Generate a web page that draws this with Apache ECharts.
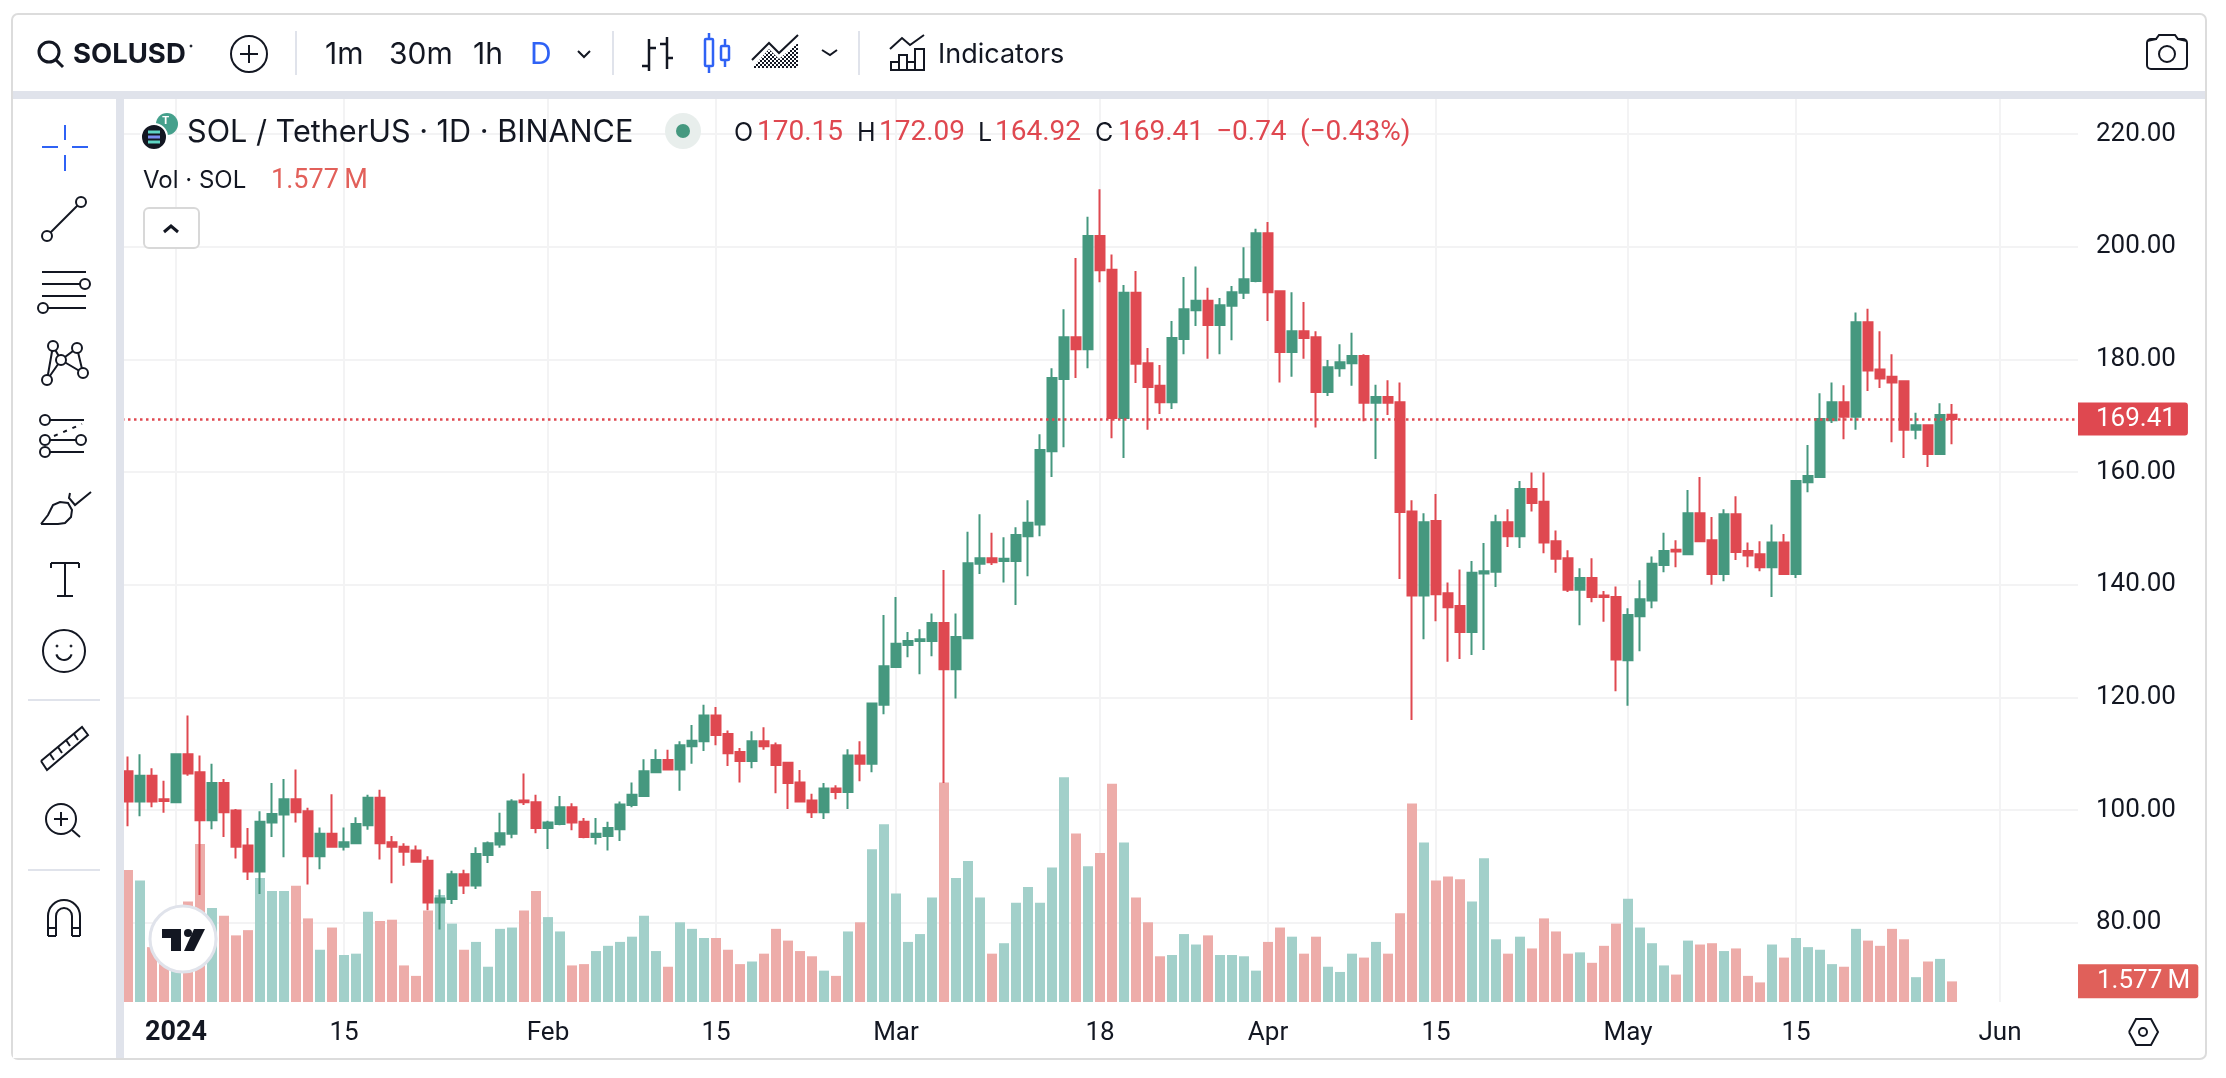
<!DOCTYPE html>
<html>
<head>
<meta charset="utf-8">
<title>SOLUSD</title>
<style>
html, body { margin: 0; padding: 0; background: #fff; }
#main { width: 2226px; height: 1078px; }
</style>
<script src="https://cdn.jsdelivr.net/npm/echarts@6/dist/echarts.min.js"></script>
</head>
<body>
<div id="main"></div>
<script>
// daily bars from 2023-12-28, each row is open, close, low, high
var candles = [
    [106.9,101.5,97.1,109.5],[101.5,106.1,98.9,109.9],[106.1,101.5,100.5,107.4],[101.9,101.6,99.5,105.2],
    [101.4,109.9,101.4,109.9],[109.9,106.5,106.1,116.8],[106.7,98.2,84.9,109.7],[98.2,104.8,96.6,108.2],
    [104.8,99.6,95.2,105.5],[99.9,93.5,91.4,100.2],[93.7,89.1,87.6,96.8],[89.1,97.9,85.1,99.8],
    [97.8,99.3,95.2,104.8],[99.2,101.9,91.6,105.5],[101.9,99.6,97.8,107.2],[99.8,91.8,86.8,100.4],
    [91.8,95.8,89.5,96.9],[95.8,93.5,93.5,102.8],[93.5,94.3,92.8,96.9],[94.1,97.5,94.1,98.7],
    [97.3,102.2,96.5,102.7],[102.2,94.1,91.2,103.6],[94.3,93.5,87.0,95.4],[93.5,92.6,90.1,94.1],
    [92.8,90.8,90.8,93.7],[91.0,83.6,82.2,91.8],[83.6,84.3,78.8,85.9],[84.2,88.6,83.3,89.2],
    [88.6,86.6,85.1,89.4],[86.6,92.2,86.0,93.4],[92.0,94.1,90.6,94.4],[93.9,95.9,93.3,99.5],
    [95.8,101.5,95.0,101.9],[101.7,101.4,100.9,106.5],[101.4,96.8,95.9,102.7],[96.8,97.8,93.1,98.1],
    [97.5,100.5,97.3,102.5],[100.5,97.8,96.4,101.2],[97.9,95.2,95.0,98.6],[95.2,95.8,93.9,98.6],
    [95.4,96.8,92.8,97.9],[96.6,101.0,94.5,101.5],[100.9,102.7,100.5,104.9],[102.5,106.9,102.5,109.0],
    [106.7,108.9,106.7,110.8],[108.9,107.2,107.1,110.7],[107.2,111.5,103.4,112.2],[111.3,112.3,108.2,115.1],
    [112.2,116.8,110.5,118.7],[116.8,113.3,111.5,118.3],[113.5,110.1,107.8,114.1],[110.3,108.7,104.9,111.0],
    [108.7,112.2,107.4,114.0],[112.2,111.3,110.7,114.7],[111.5,108.0,103.0,112.0],[108.4,104.8,100.2,108.4],
    [104.9,101.5,101.4,107.1],[101.7,99.6,98.6,102.9],[99.6,103.8,98.4,104.8],[103.8,103.2,101.9,104.4],
    [103.2,109.7,100.2,110.8],[109.7,108.2,105.1,112.2],[108.2,118.9,106.7,118.9],[118.7,125.5,117.0,134.6],
    [125.4,129.5,125.4,137.8],[129.3,130.0,127.1,131.6],[130.0,130.3,124.1,132.1],[130.0,133.2,127.3,134.9],
    [133.2,125.0,104.8,142.6],[125.0,130.7,119.8,134.9],[130.5,143.8,130.5,149.4],[143.7,144.7,141.9,152.5],
    [144.7,144.0,143.5,149.2],[144.2,144.6,140.4,148.4],[144.2,148.8,136.4,150.2],[148.6,151.0,141.5,155.0],
    [150.7,163.9,148.6,166.7],[163.7,176.7,159.1,178.4],[176.5,183.9,164.4,188.9],[183.9,181.8,176.7,198.0],
    [181.8,201.9,178.4,205.3],[201.9,195.8,193.7,210.2],[195.9,169.6,166.0,198.6],[169.6,191.8,162.5,193.2],
    [191.8,179.2,175.8,195.7],[179.3,175.1,167.5,182.0],[175.3,172.4,170.3,179.0],[172.4,183.8,171.2,186.8],
    [183.6,188.9,180.9,194.6],[188.7,190.4,185.9,196.5],[190.4,186.1,180.1,192.7],[186.1,189.6,180.9,190.9],
    [189.5,191.9,183.4,193.0],[191.8,194.2,190.7,199.9],[193.9,202.4,193.7,203.2],[202.4,191.9,186.8,204.4],
    [192.1,181.3,175.9,192.1],[181.3,185.0,176.9,191.9],[185.0,183.8,180.1,190.2],[183.9,174.2,167.9,185.0],
    [174.2,178.6,173.5,179.9],[178.4,179.5,176.9,182.7],[179.3,180.6,175.3,184.7],[180.6,172.3,169.0,180.9],
    [172.3,173.3,162.3,175.5],[173.3,172.3,170.1,176.3],[172.4,152.9,141.0,175.9],[153.0,138.1,116.0,155.0],
    [138.1,151.1,130.3,152.7],[151.3,138.3,133.5,156.1],[138.5,136.0,126.3,140.4],[136.2,131.6,126.8,142.7],
    [131.6,142.1,127.5,144.2],[142.0,142.4,128.4,147.4],[142.3,151.1,139.6,152.4],[151.1,148.6,146.7,153.4],
    [148.6,157.0,146.5,158.4],[157.0,154.5,153.0,159.9],[154.7,147.5,145.6,159.9],[147.7,144.6,142.1,149.6],
    [144.7,139.1,138.7,146.1],[139.1,141.2,132.8,142.9],[141.2,137.8,136.9,144.7],[138.1,137.8,133.4,138.9],
    [137.8,126.7,121.1,139.7],[126.6,134.6,118.5,135.8],[134.4,137.4,128.2,140.8],[137.2,143.7,135.8,145.0],
    [143.5,146.0,142.2,149.2],[146.2,145.9,143.1,147.9],[145.4,152.7,145.4,156.8],[152.7,147.7,147.7,159.1],
    [147.9,141.9,140.0,152.0],[141.9,152.5,140.6,153.4],[152.5,145.8,144.4,155.7],[146.0,145.2,143.1,147.5],
    [145.4,143.1,142.4,147.7],[143.1,147.5,137.8,150.7],[147.5,141.9,141.7,149.0],[141.9,158.4,141.2,158.6],
    [158.2,159.3,156.4,164.8],[159.1,169.4,159.1,174.0],[169.2,172.4,168.7,175.9],[172.4,169.8,165.8,175.4],
    [169.8,186.6,167.5,188.3],[186.6,178.0,174.4,189.0],[178.2,176.6,174.9,185.0],[176.9,175.9,165.3,180.9],
    [176.1,167.5,162.5,176.1],[167.5,168.3,165.8,170.5],[168.3,163.2,160.9,168.3],[163.2,170.1,163.2,172.2],
    [170.15,169.41,164.92,172.09]
];

// volume in millions of SOL
var volumes = [
    10.1,9.3,4.2,2.9,4.5,7.7,12.1,7.2,6.6,5.1,5.5,9.5,8.5,8.5,8.9,6.4,4.0,5.7,3.6,3.7,
    6.9,6.2,6.3,2.8,2.0,7.0,8.2,6.0,4.0,4.6,2.7,5.6,5.7,7.0,8.5,6.5,5.4,2.8,2.9,3.9,
    4.3,4.6,5.0,6.6,3.9,2.7,6.1,5.6,4.9,4.9,4.0,2.9,3.1,3.7,5.6,4.7,3.9,3.5,2.4,2.0,
    5.4,6.1,11.7,13.6,8.3,4.6,5.2,8.0,16.8,9.5,10.8,8.0,3.7,4.5,7.6,8.8,7.6,10.3,17.2,12.9,
    10.4,11.4,16.7,12.2,8.0,6.1,3.5,3.6,5.2,4.4,5.1,3.6,3.6,3.5,2.4,4.6,5.7,5.0,3.7,5.0,
    2.7,2.3,3.7,3.4,4.6,3.7,6.8,15.2,12.2,9.3,9.6,9.4,7.7,11.0,4.8,3.7,5.0,4.1,6.4,5.4,
    3.7,3.8,3.0,4.3,6.0,7.9,5.7,4.5,2.8,2.1,4.7,4.4,4.5,3.9,4.1,2.0,1.5,4.4,3.4,4.9,
    4.2,4.0,2.9,2.7,5.6,4.7,4.3,5.6,4.8,1.9,3.1,3.3,1.577
];

var lastPrice = 169.41;
var lastVolume = 1.577;

// the axis runs on past the last bar, up to 7 Jun
var categories = [];
for (var d = new Date(Date.UTC(2023, 11, 28)); d <= new Date(Date.UTC(2024, 5, 7)); d.setUTCDate(d.getUTCDate() + 1)) {
    categories.push(d.toISOString().slice(0, 10));
}

var tickLabels = {
    '2024-01-01': '2024', '2024-01-15': '15', '2024-02-01': 'Feb', '2024-02-15': '15',
    '2024-03-01': 'Mar', '2024-03-18': '18', '2024-04-01': 'Apr', '2024-04-15': '15',
    '2024-05-01': 'May', '2024-05-15': '15', '2024-06-01': 'Jun'
};

var GREEN = '#45987f', RED = '#df4850';
var VOL_GREEN = '#a2d0ca', VOL_RED = '#edaca9';
var INK = '#131722', BLUE = '#2f62f5', BAND = '#e0e3eb', GRID = '#f3f3f4';
var FONT = 'Inter', NUM_FONT = 'Roboto';

function isTick(i) {
    return tickLabels[categories[i]] !== undefined;
}

// 2px checker for the area icon
function checker() {
    var c = document.createElement('canvas');
    c.width = c.height = 4;
    var ctx = c.getContext('2d');
    ctx.fillStyle = INK;
    ctx.fillRect(0, 0, 2, 2);
    ctx.fillRect(2, 2, 2, 2);
    return c;
}

// helpers for the toolbar chrome, drawn above the series
function ln(x1, y1, x2, y2, color, w, dash) {
    return { type: 'line', z: 100, silent: true, shape: { x1: x1, y1: y1, x2: x2, y2: y2 },
        style: { stroke: color || INK, lineWidth: w || 2, lineDash: dash } };
}
function ring(cx, cy, r, color, w, fill) {
    return { type: 'circle', z: 100, silent: true, shape: { cx: cx, cy: cy, r: r },
        style: { stroke: color || INK, lineWidth: w === undefined ? 2 : w, fill: fill || '#fff' } };
}
function box(x, y, w, h, fill, stroke, r, lw) {
    return { type: 'rect', z: 100, silent: true, shape: { x: x, y: y, width: w, height: h, r: r || 0 },
        style: { fill: fill || 'none', stroke: stroke || 'none', lineWidth: lw === undefined ? 2 : lw } };
}
function txt(x, y, s, size, color, weight, font) {
    return { type: 'text', z: 101, silent: true, x: x, y: y,
        style: { text: s, fontFamily: font || FONT, fontSize: size, fill: color || INK, fontWeight: weight || 400,
            textAlign: 'left', textVerticalAlign: 'middle' } };
}
function poly(points, color, w) {
    return { type: 'polyline', z: 100, silent: true, shape: { points: points },
        style: { stroke: color || INK, lineWidth: w || 2, fill: 'none' } };
}
function fillPoly(points, fill) {
    return { type: 'polygon', z: 100, silent: true, shape: { points: points }, style: { fill: fill, stroke: 'none' } };
}
function arc(cx, cy, r, a0, a1, color, w) {
    return { type: 'arc', z: 100, silent: true, shape: { cx: cx, cy: cy, r: r, startAngle: a0, endAngle: a1, clockwise: true },
        style: { stroke: color || INK, lineWidth: w || 2, fill: 'none' } };
}

var chrome = [
    // frame and bands
    box(12, 14, 2194, 1045, 'none', '#dcdcdc', 6, 2),
    box(13, 91, 2192, 8, BAND),
    box(13, 99, 103, 959, '#fff'),
    box(116, 99, 8, 959, BAND),

    // top toolbar
    ring(49, 52, 10, INK, 3, 'none'), ln(56, 60, 63, 67, INK, 3),
    txt(73, 55, 'SOLUSD', 27.5, INK, 700), ring(191, 46, 1, INK, 1, INK),
    ring(249, 54, 18, INK, 2, 'none'), ln(240, 54, 258, 54), ln(249, 45, 249, 63),
    ln(296, 31, 296, 75, BAND, 2),
    txt(325, 55, '1m', 30), txt(389, 55, '30m', 30), txt(473, 55, '1h', 30), txt(530, 55, 'D', 30, BLUE),
    poly([[578, 51], [584, 57], [590, 51]]),
    ln(613, 31, 613, 75, BAND, 2),
    ln(649, 39, 649, 71, INK, 2.5), ln(642, 66, 649, 66, INK, 2.5), ln(649, 48, 656, 48, INK, 2.5),
    ln(667, 37, 667, 69, INK, 2.5), ln(660, 44, 667, 44, INK, 2.5), ln(667, 58, 673, 58, INK, 2.5),
    ln(709, 33, 709, 73, BLUE, 2.5), box(705, 39, 8, 27, '#fff', BLUE, 1, 2.5),
    ln(725, 39, 725, 67, BLUE, 2.5), box(721, 46, 8, 14, '#fff', BLUE, 1, 2.5),
    fillPoly([[752, 68], [769, 49], [779, 59], [798, 43], [798, 68]], { image: checker(), repeat: 'repeat' }),
    poly([[752, 60], [769, 43], [779, 53], [798, 35]]),
    poly([[822, 50], [830, 55], [837, 50]]),
    ln(859, 31, 859, 75, BAND, 2),
    poly([[890, 49], [902, 38], [910, 45], [924, 35]]),
    box(891, 62, 8, 8, 'none', INK, 0), box(899, 55, 8, 15, 'none', INK, 0),
    box(907, 62, 8, 8, 'none', INK, 0), box(915, 49, 9, 21, 'none', INK, 0),
    txt(938, 55, 'Indicators', 27),

    // camera
    box(2147, 39, 40, 30, 'none', INK, 4), ring(2167, 54, 8, INK, 2, 'none'),
    box(2157, 35, 20, 6, '#fff', 'none', 0, 0),
    poly([[2147, 41], [2156, 39], [2159, 35], [2175, 35], [2178, 39], [2187, 41]]),

    // legend
    ring(167, 124, 11, '#fff', 0, '#45a08c'), txt(162, 121, 'T', 11, '#fff', 700),
    ring(154, 137, 13, '#fff', 2, '#131722'),
    ln(148, 132, 160, 132, '#5fd5c4', 3), ln(148, 137, 160, 137, '#7a8cf0', 3), ln(148, 142, 160, 142, '#5fd5c4', 3),
    txt(187, 133, 'SOL / TetherUS · 1D · BINANCE', 30.6),
    ring(683, 131, 18, '#fff', 0, '#e8eeec'), ring(683, 131, 7, '#fff', 0, GREEN),
    txt(734, 133, 'O', 25), txt(757, 133, '170.15', 28, RED, 400, NUM_FONT),
    txt(857, 133, 'H', 25), txt(879, 133, '172.09', 28, RED, 400, NUM_FONT),
    txt(978, 133, 'L', 25), txt(995, 133, '164.92', 28, RED, 400, NUM_FONT),
    txt(1095, 133, 'C', 25), txt(1118, 133, '169.41', 28, RED, 400, NUM_FONT),
    txt(1216, 133, '−0.74', 28, RED, 400, NUM_FONT), txt(1300, 133, '(−0.43%)', 28, RED, 400, NUM_FONT),
    txt(143, 181, 'Vol · SOL', 24), txt(271, 181, '1.577\u2009M', 27, '#e2605a', 400, NUM_FONT),
    box(144, 208, 55, 40, '#fff', '#d8d8d8', 5),
    poly([[164, 232], [171, 226], [178, 232]], INK, 3),

    // left toolbar
    ln(42, 147, 58, 147, BLUE), ln(72, 147, 88, 147, BLUE), ln(65, 125, 65, 140, BLUE), ln(65, 155, 65, 171, BLUE),
    ln(50, 233, 78, 205), ring(47, 236, 5), ring(81, 202, 5),
    ln(42, 272, 86, 272), ln(42, 284, 80, 284), ln(42, 296, 86, 296), ln(48, 308, 86, 308),
    ring(85, 284, 5), ring(43, 308, 5),
    poly([[47, 380], [53, 346], [61, 360], [77, 348], [83, 373], [61, 360], [47, 380]]),
    ring(47, 380, 5), ring(53, 346, 5), ring(61, 360, 5), ring(77, 348, 5), ring(83, 373, 5),
    ln(50, 420, 84, 420), ln(50, 440, 76, 440), ln(50, 452, 84, 452), ln(54, 436, 82, 424, INK, 2, [4, 6]),
    ring(45, 420, 5), ring(45, 440, 5), ring(81, 440, 5), ring(45, 452, 5),
    poly([[41, 524], [48, 515], [53, 505], [60, 502], [68, 503], [72, 510], [71, 517], [65, 523], [58, 524], [41, 524]]),
    poly([[70, 493], [69, 498], [75, 505], [91, 492]]),
    ln(51, 563, 79, 563), ln(65, 563, 65, 596), ln(57, 596, 73, 596), ln(51, 563, 51, 568), ln(79, 563, 79, 568),
    ring(64, 651, 21, INK, 2, 'none'), ring(57, 646, 1, INK, 1, INK), ring(71, 646, 1, INK, 1, INK),
    arc(64, 652, 8, 0.3, Math.PI - 0.3),
    ln(28, 700, 100, 700, BAND),
    poly([[41, 761], [82, 727], [88, 735], [47, 770], [41, 761]]),
    ln(50, 754, 54, 760), ln(58, 747, 62, 753), ln(66, 740, 70, 746), ln(74, 734, 78, 740),
    ring(61, 819, 15, INK, 2, 'none'), ln(72, 830, 80, 837), ln(54, 819, 68, 819), ln(61, 812, 61, 826),
    ln(28, 870, 100, 870, BAND),
    arc(64, 916, 16, Math.PI, 0), arc(64, 916, 8, Math.PI, 0),
    ln(48, 916, 48, 936), ln(56, 916, 56, 936), ln(72, 916, 72, 936), ln(80, 916, 80, 936),
    ln(48, 936, 56, 936), ln(72, 936, 80, 936), ln(48, 928, 56, 928), ln(72, 928, 80, 928),

    // watermark badge
    ring(183, 939, 33, BAND, 3, '#fff'),
    fillPoly([[162, 929], [181, 929], [181, 951], [171, 951], [171, 938], [162, 938]], INK),
    ring(188, 933, 4, INK, 0, INK),
    fillPoly([[194, 929], [205, 929], [194, 951], [184, 951]], INK),

    // settings hexagon under the price scale
    poly([[2129, 1032], [2136, 1019], [2151, 1019], [2158, 1032], [2151, 1045], [2136, 1045], [2129, 1032]]),
    ring(2143, 1032, 4, INK, 2, 'none')
];

var chart = echarts.init(document.getElementById('main'));
var option = {
    animation: false,
    backgroundColor: '#fff',
    textStyle: { fontFamily: FONT },
    grid: [
        // price pane spans the 80-220 gridlines, volume pane the whole height
        { left: 122, width: 1956, top: 134, height: 788.7 },
        { left: 122, width: 1956, top: 98, height: 904 }
    ],
    xAxis: [
        { type: 'category', gridIndex: 0, data: categories, show: false },
        {
            type: 'category',
            gridIndex: 1,
            data: categories,
            axisLine: { show: false },
            axisTick: { show: false },
            axisLabel: {
                margin: 18,
                fontSize: 26,
                fontFamily: NUM_FONT,
                color: INK,
                interval: function (i) { return isTick(i); },
                formatter: function (v) {
                    var s = tickLabels[v] || '';
                    return s === '2024' ? '{b|' + s + '}' : s;
                },
                rich: { b: { fontWeight: 700, fontSize: 27, fontFamily: NUM_FONT, color: INK } }
            },
            splitLine: {
                show: true,
                alignWithLabel: true,
                interval: function (i) { return isTick(i); },
                lineStyle: { color: GRID, width: 2 }
            }
        }
    ],
    yAxis: [
        {
            type: 'value',
            gridIndex: 0,
            position: 'right',
            min: 80,
            max: 220,
            interval: 20,
            axisLine: { show: false },
            axisTick: { show: false },
            axisLabel: {
                margin: 18,
                fontSize: 26,
                fontFamily: NUM_FONT,
                color: INK,
                padding: [3, 0, 0, 0],
                formatter: function (v) { return v.toFixed(2); }
            },
            splitLine: { lineStyle: { color: GRID, width: 2 } }
        },
        { type: 'value', gridIndex: 1, min: 0, max: 69.2, show: false, splitLine: { show: false } }
    ],
    series: [
        {
            type: 'bar',
            xAxisIndex: 1,
            yAxisIndex: 1,
            barWidth: 10,
            z: 2,
            data: volumes.map(function (v, i) {
                var up = candles[i][1] >= candles[i][0];
                return { value: v, itemStyle: { color: up ? VOL_GREEN : VOL_RED } };
            }),
            markLine: {
                silent: true,
                symbol: 'none',
                lineStyle: { color: 'rgba(0,0,0,0)', width: 1 },
                label: {
                    position: 'end',
                    distance: 0,
                    formatter: '1.577\u2009M',
                    color: '#fff',
                    fontFamily: NUM_FONT,
                    fontSize: 26,
                    backgroundColor: '#e0605a',
                    padding: [4, 8, 4, 19],
                    borderRadius: [0, 3, 3, 0]
                },
                data: [{ yAxis: lastVolume }]
            }
        },
        {
            type: 'candlestick',
            xAxisIndex: 0,
            yAxisIndex: 0,
            barWidth: 9,
            clip: false,
            z: 3,
            itemStyle: {
                color: GREEN,
                color0: RED,
                borderColor: GREEN,
                borderColor0: RED,
                borderWidth: 2
            },
            data: candles,
            markLine: {
                silent: true,
                symbol: 'none',
                lineStyle: { color: RED, width: 2.5, type: [2.5, 3.5] },
                label: {
                    position: 'end',
                    distance: 0,
                    color: '#fff',
                    fontFamily: NUM_FONT,
                    fontSize: 26,
                    backgroundColor: RED,
                    padding: [4, 12, 3, 18],
                    borderRadius: [0, 3, 3, 0],
                    formatter: function (p) { return p.value.toFixed(2); }
                },
                data: [{ yAxis: lastPrice }]
            }
        }
    ],
    graphic: { elements: chrome }
};
chart.setOption(option);
</script>
</body>
</html>
